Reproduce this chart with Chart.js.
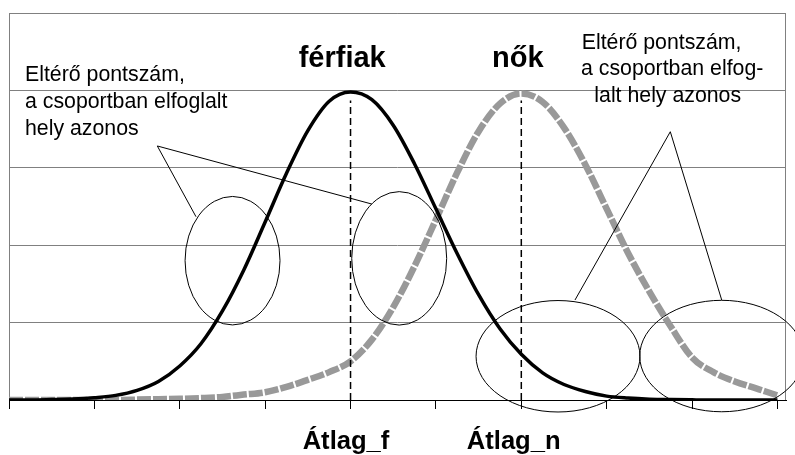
<!DOCTYPE html>
<html>
<head>
<meta charset="utf-8">
<script src="https://cdn.jsdelivr.net/npm/chart.js@4.4.1/dist/chart.umd.min.js"></script>
<style>
  body { margin: 0; background: #fff; }
  #doboz { width: 795px; height: 455px; position: relative; }
</style>
</head>
<body>
<div id="doboz"><canvas id="grafikon"></canvas></div>
<script>
// Adatok
const pontszam = [0, 0.25, 0.5, 0.75, 1, 1.25, 1.5, 1.75, 2, 2.25, 2.5, 2.75, 3, 3.25, 3.5, 3.75, 4,
    4.25, 4.5, 4.75, 5, 5.25, 5.5, 5.75, 6, 6.25, 6.5, 6.75, 7, 7.25, 7.5, 7.75, 8, 8.25, 8.5, 8.75, 9];
const ferfiak = [0, 0, 0.005, 0.012, 0.03, 0.06, 0.125, 0.24, 0.44, 0.73, 1.15, 1.68, 2.30, 2.93, 3.48, 3.86, 3.98,
    3.88, 3.55, 3.05, 2.47, 1.89, 1.36, 0.92, 0.59, 0.35, 0.20, 0.11, 0.05, 0.025, 0.011, 0.005, 0.002, 0, 0, 0, 0];
const nok = [0, 0, 0, 0, 0, 0, 0.005, 0.01, 0.015, 0.025, 0.04, 0.07, 0.10, 0.17, 0.26, 0.36, 0.50,
    0.78, 1.20, 1.73, 2.33, 2.94, 3.47, 3.83, 3.96, 3.85, 3.52, 3.04, 2.47, 1.90, 1.40, 0.95, 0.55, 0.36, 0.24, 0.15, 0.06];
const atlagF = 4;
const atlagN = 6;
const atlagMagassag = [0, 3.87];
const xOsztas = [0, 1, 2, 3, 4, 5, 6, 7, 8, 9];
const yOsztas = [0, 1, 2, 3, 4, 5];

const betu = "'Liberation Sans', Arial, sans-serif";

// Ellipszisek és mutatóvonalak (adategységben)
const ellipszisek = [
    [2.618, 1.80, 0.556, 0.83],
    [4.570, 1.83, 0.556, 0.862],
    [6.430, 0.565, 0.96, 0.72],
    [8.347, 0.568, 0.96, 0.72]
];
const mutatok = [
    [[1.737, 3.282], [2.190, 2.368]],
    [[1.737, 3.282], [4.248, 2.532]],
    [[7.745, 3.466], [6.629, 1.292]],
    [[7.745, 3.466], [8.347, 1.292]]
];

const feliratok = {
    id: 'feliratok',
    beforeDatasetsDraw(chart) {
        const { ctx, chartArea: a } = chart;
        ctx.save();
        ctx.strokeStyle = '#808080';
        ctx.lineWidth = 1;
        ctx.beginPath();
        ctx.moveTo(a.left + 0.5, a.bottom);
        ctx.lineTo(a.left + 0.5, a.top + 0.5);
        ctx.lineTo(a.right - 0.5, a.top + 0.5);
        ctx.lineTo(a.right - 0.5, a.bottom);
        ctx.stroke();
        ctx.restore();
    },
    afterDraw(chart) {
        const { ctx } = chart;
        const sx = chart.scales.x, sy = chart.scales.y;
        const ux = sx.getPixelForValue(1) - sx.getPixelForValue(0);
        const uy = sy.getPixelForValue(0) - sy.getPixelForValue(1);
        ctx.save();
        ctx.strokeStyle = '#000';
        ctx.lineWidth = 1;
        ellipszisek.forEach(e => {
            ctx.beginPath();
            ctx.ellipse(sx.getPixelForValue(e[0]), sy.getPixelForValue(e[1]), e[2] * ux, e[3] * uy, 0, 0, Math.PI * 2);
            ctx.stroke();
        });
        mutatok.forEach(m => {
            ctx.beginPath();
            ctx.moveTo(sx.getPixelForValue(m[0][0]), sy.getPixelForValue(m[0][1]));
            ctx.lineTo(sx.getPixelForValue(m[1][0]), sy.getPixelForValue(m[1][1]));
            ctx.stroke();
        });

        ctx.fillStyle = '#000';
        ctx.textBaseline = 'alphabetic';
        ctx.textAlign = 'left';
        ctx.font = '21.3px ' + betu;
        ctx.fillText('Eltérő pontszám,', 25, 81);
        ctx.fillText('a csoportban elfoglalt', 25, 108);
        ctx.fillText('hely azonos', 25, 135);
        ctx.fillText('Eltérő pontszám,', 581.7, 49);
        ctx.fillText('a csoportban elfog-', 581, 74.5);
        ctx.fillText('lalt hely azonos', 594.3, 101.5);

        ctx.textAlign = 'center';
        ctx.font = 'bold 29px ' + betu;
        ctx.fillText('férfiak', 342.2, 66.7);
        ctx.fillText('nők', 517.8, 66.7);
        ctx.font = 'bold 25.6px ' + betu;
        ctx.fillText('Átlag_f', 346, 449.3);
        ctx.fillText('Átlag_n', 513.7, 449.3);
        ctx.restore();
    }
};

const pontok = (ys) => pontszam.map((x, i) => ({ x: x, y: ys[i] }));

new Chart(document.querySelector('#grafikon'), {
    type: 'line',
    data: {
        datasets: [
            {
                label: 'férfiak',
                data: pontok(ferfiak),
                borderColor: '#000',
                borderWidth: 3.5,
                pointRadius: 0,
                cubicInterpolationMode: 'monotone'
            },
            {
                label: 'Átlag_f',
                data: atlagMagassag.map(y => ({ x: atlagF, y: y })),
                borderColor: '#000',
                borderWidth: 1.5,
                borderDash: [7, 4],
                pointRadius: 0
            },
            {
                label: 'Átlag_n',
                data: atlagMagassag.map(y => ({ x: atlagN, y: y })),
                borderColor: '#000',
                borderWidth: 1.5,
                borderDash: [7, 4],
                pointRadius: 0
            },
            {
                label: 'nők',
                data: pontok(nok),
                borderColor: '#999999',
                borderWidth: 6.5,
                borderDash: [14, 2],
                pointRadius: 0,
                cubicInterpolationMode: 'monotone'
            }
        ]
    },
    options: {
        responsive: true,
        maintainAspectRatio: false,
        animation: false,
        layout: { padding: { left: 9, right: 9, top: 13, bottom: 0 } },
        plugins: { legend: { display: false }, tooltip: { enabled: false } },
        scales: {
            x: {
                type: 'linear',
                min: 0,
                max: 9.1,
                afterBuildTicks: (s) => { s.ticks = xOsztas.map(v => ({ value: v })); },
                afterFit: (s) => { s.height = 55; },
                ticks: { display: false },
                grid: { drawOnChartArea: false, drawTicks: true, tickLength: 9, color: '#000' },
                border: { display: true, color: '#000', width: 1 }
            },
            y: {
                min: 0,
                max: 5,
                afterBuildTicks: (s) => { s.ticks = yOsztas.map(v => ({ value: v })); },
                afterFit: (s) => { s.width = 0; },
                ticks: { display: false },
                grid: { color: '#808080', drawTicks: false },
                border: { display: false }
            }
        }
    },
    plugins: [feliratok]
});
</script>
</body>
</html>
